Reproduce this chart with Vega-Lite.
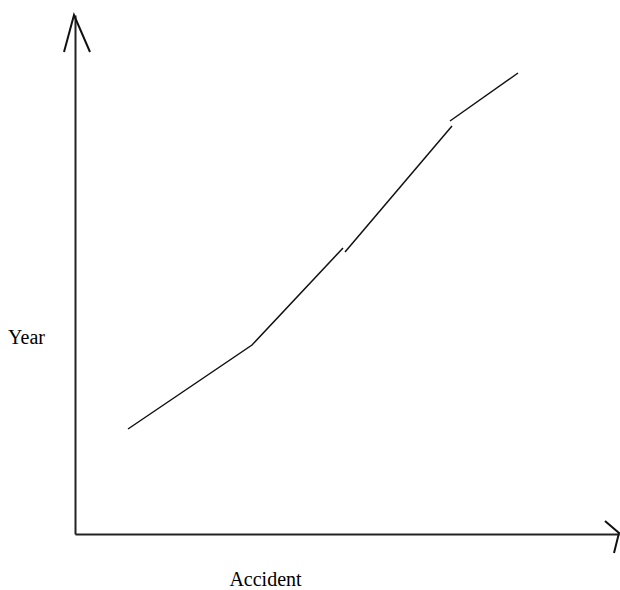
{
  "$schema": "https://vega.github.io/schema/vega-lite/v6.json",
  "autosize": "none",
  "width": 544,
  "height": 519,
  "padding": {"left": 75, "top": 15, "right": 1, "bottom": 56},
  "background": "white",
  "config": {"view": {"stroke": null}},
  "datasets": {
    "curve": [
      {"part": "a", "accident": 53, "year": 105},
      {"part": "a", "accident": 177, "year": 189},
      {"part": "a", "accident": 268, "year": 286},
      {"part": "b", "accident": 270, "year": 282},
      {"part": "b", "accident": 377, "year": 408},
      {"part": "c", "accident": 375, "year": 413},
      {"part": "c", "accident": 443, "year": 461}
    ],
    "ytip": [{"accident": 0, "year": 519}],
    "xtip": [{"accident": 544, "year": 1}]
  },
  "layer": [
    {
      "data": {"name": "curve"},
      "mark": {"type": "line", "color": "#111111", "strokeWidth": 1.5},
      "encoding": {
        "x": {
          "field": "accident", "type": "quantitative",
          "scale": {"domain": [0, 544], "nice": false, "zero": false},
          "axis": {
            "title": "Accident", "labels": false, "ticks": false, "grid": false,
            "domainColor": "#222222", "domainWidth": 2,
            "titleFont": "Liberation Serif", "titleFontSize": 20, "titleFontWeight": "normal",
            "titleColor": "#000000", "titleX": 190, "titleY": 51, "titleAlign": "center",
            "titleBaseline": "alphabetic"
          }
        },
        "y": {
          "field": "year", "type": "quantitative",
          "scale": {"domain": [0, 519], "nice": false, "zero": false},
          "axis": {
            "title": "Year", "labels": false, "ticks": false, "grid": false,
            "domainColor": "#222222", "domainWidth": 2,
            "titleFont": "Liberation Serif", "titleFontSize": 20, "titleFontWeight": "normal",
            "titleColor": "#000000", "titleAngle": 0, "titleX": -49, "titleY": 328,
            "titleAlign": "center", "titleBaseline": "alphabetic"
          }
        },
        "detail": {"field": "part"}
      }
    },
    {
      "data": {"name": "ytip"},
      "mark": {"type": "point", "shape": "M -11 37 L -1 0 L 15 37", "size": 4, "filled": false, "stroke": "#111111", "strokeWidth": 2, "opacity": 1},
      "encoding": {
        "x": {"field": "accident", "type": "quantitative"},
        "y": {"field": "year", "type": "quantitative"}
      }
    },
    {
      "data": {"name": "xtip"},
      "mark": {"type": "point", "shape": "M -14 -12 L 0 0 L -5 20", "size": 4, "filled": false, "stroke": "#111111", "strokeWidth": 2, "opacity": 1},
      "encoding": {
        "x": {"field": "accident", "type": "quantitative"},
        "y": {"field": "year", "type": "quantitative"}
      }
    }
  ]
}
